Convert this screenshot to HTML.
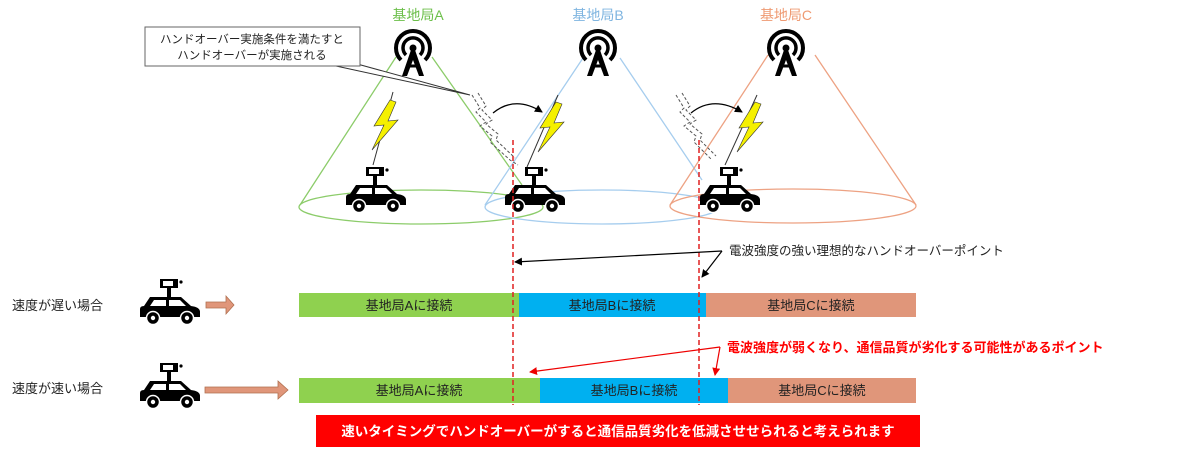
<!DOCTYPE html>
<html><head><meta charset="utf-8"><style>
body{margin:0;background:#fff;width:1200px;height:452px;overflow:hidden}
svg text{font-family:"Liberation Sans","Noto Sans CJK JP",sans-serif}
</style></head><body>
<svg width="1200" height="452" viewBox="0 0 1200 452" xmlns="http://www.w3.org/2000/svg">
<defs>
<g id="car">
<rect x="20" y="0" width="18" height="9" fill="#000"/>
<rect x="23" y="2" width="10" height="5" fill="#fff"/>
<circle cx="41" cy="3" r="1.6" fill="#000"/>
<rect x="27" y="9" width="4" height="9" fill="#000"/>
<path d="M10 18 H41 L51 27 Q60 28 60 33 V38 H0 V30 Q0 27 4 27 Z" fill="#000"/>
<path d="M14 21 H26 V27 H10 Z M29 21 H40 L46 27 H29 Z" fill="#fff"/>
<circle cx="13" cy="39" r="6.5" fill="#000" stroke="#fff" stroke-width="1.5"/>
<circle cx="47" cy="39" r="6.5" fill="#000" stroke="#fff" stroke-width="1.5"/>
<circle cx="13" cy="39" r="2.2" fill="#fff"/>
<circle cx="47" cy="39" r="2.2" fill="#fff"/>
</g>
<g id="tower">
<path d="M-12 12 A17 17 0 1 1 12 12" fill="none" stroke="#000" stroke-width="4"/>
<path d="M-7 7 A10 10 0 1 1 7 7" fill="none" stroke="#000" stroke-width="3.5"/>
<circle cx="0" cy="0" r="3.5" fill="#000"/>
<path d="M-2 2 L-11 28 H-6 L0 12 L6 28 H11 L2 2 Z" fill="#000"/>
<path d="M-6 18 H6" stroke="#000" stroke-width="3"/>
</g>
<g id="bolt"><path d="M0 0 L-16 26 L-6 25 L-18 50 L8 20 L-2 21 L6 2 Z" fill="#f5f000" stroke="#333" stroke-width="0.6"/></g>
<marker id="ah" markerWidth="8" markerHeight="8" refX="7" refY="4" orient="auto" markerUnits="userSpaceOnUse"><path d="M0 0 L8 4 L0 8 Z" fill="#000"/></marker>
<marker id="ahr" markerWidth="8" markerHeight="8" refX="7" refY="4" orient="auto" markerUnits="userSpaceOnUse"><path d="M0 0 L8 4 L0 8 Z" fill="#e00"/></marker>
</defs>

<text x="418" y="20" font-size="14" fill="#6cbf4a" text-anchor="middle">基地局A</text>
<text x="598" y="20" font-size="14" fill="#7fb5e0" text-anchor="middle">基地局B</text>
<text x="786" y="20" font-size="14" fill="#ef9a72" text-anchor="middle">基地局C</text>

<g fill="none" stroke-width="1.3">
<path d="M396 57 L300 205 M432 57 L522 185" stroke="#8ccc6a"/>
<ellipse cx="421" cy="207" rx="122" ry="17" stroke="#8ccc6a"/>
<path d="M583 58 L485 205 M620 58 L702 180" stroke="#a6cdee"/>
<ellipse cx="602" cy="207" rx="117" ry="17" stroke="#a6cdee"/>
<path d="M768 55 L670 205 M815 55 L916 205" stroke="#eda283"/>
<ellipse cx="793" cy="206" rx="123" ry="17" stroke="#eda283"/>
</g>

<use href="#tower" transform="translate(413,48)"/>
<use href="#tower" transform="translate(598,48)"/>
<use href="#tower" transform="translate(786,48)"/>

<path d="M393 92 L373 165" stroke="#333" stroke-width="1"/>
<use href="#bolt" transform="translate(390,100)"/>
<path d="M558 95 L527 167" stroke="#333" stroke-width="1"/>
<use href="#bolt" transform="translate(556,102)"/>
<path d="M757 95 L725 165" stroke="#333" stroke-width="1"/>
<use href="#bolt" transform="translate(755,102)"/>

<use href="#car" transform="translate(346,167)"/>
<use href="#car" transform="translate(505,167)"/>
<use href="#car" transform="translate(700,167)"/>

<g fill="none" stroke="#555" stroke-width="1" stroke-dasharray="3 2">
<path d="M472 95 L480 108 L476 112 L486 122 L480 126 L492 136 L490 142 L510 160 L518 165"/>
<path d="M478 93 L486 106 L482 110 L492 120 L486 124 L498 134 L496 140 L515 158"/>
<path d="M676 95 L684 108 L680 112 L690 122 L684 126 L696 136 L694 142 L712 160"/>
<path d="M682 93 L690 106 L686 110 L696 120 L690 124 L702 134 L700 140 L716 156"/>
</g>
<path d="M493 113 Q515 95 542 112" fill="none" stroke="#000" stroke-width="1.2" marker-end="url(#ah)"/>
<path d="M691 113 Q713 95 742 112" fill="none" stroke="#000" stroke-width="1.2" marker-end="url(#ah)"/>

<path d="M336 66 L470 95 L350 62" fill="#fff" stroke="#333" stroke-width="1"/>
<rect x="145" y="27" width="215" height="39" fill="#fff" stroke="#666" stroke-width="1"/>
<text x="252" y="43" font-size="11.5" text-anchor="middle" fill="#222">ハンドオーバー実施条件を満たすと</text>
<text x="252" y="59" font-size="11.5" text-anchor="middle" fill="#222">ハンドオーバーが実施される</text>

<rect x="299" y="293" width="220" height="24" fill="#8fd14f"/>
<rect x="519" y="293" width="187" height="24" fill="#00b0f0"/>
<rect x="706" y="293" width="210" height="24" fill="#e0967a"/>
<text x="409" y="310" font-size="13" text-anchor="middle" fill="#222">基地局Aに接続</text>
<text x="612" y="310" font-size="13" text-anchor="middle" fill="#222">基地局Bに接続</text>
<text x="811" y="310" font-size="13" text-anchor="middle" fill="#222">基地局Cに接続</text>

<rect x="299" y="378" width="241" height="25" fill="#8fd14f"/>
<rect x="540" y="378" width="188" height="25" fill="#00b0f0"/>
<rect x="728" y="378" width="188" height="25" fill="#e0967a"/>
<text x="419" y="395" font-size="13" text-anchor="middle" fill="#222">基地局Aに接続</text>
<text x="634" y="395" font-size="13" text-anchor="middle" fill="#222">基地局Bに接続</text>
<text x="822" y="395" font-size="13" text-anchor="middle" fill="#222">基地局Cに接続</text>

<rect x="316" y="415" width="604" height="32" fill="#f00"/>
<text x="618" y="436" font-size="13.5" font-weight="bold" text-anchor="middle" fill="#fff">速いタイミングでハンドオーバーがすると通信品質劣化を低減させせられると考えられます</text>

<path d="M513 140 V405 M699 140 V405" stroke="#e02020" stroke-width="1.5" stroke-dasharray="5 3"/>

<path d="M722 251 L515 262" stroke="#000" stroke-width="1.2" marker-end="url(#ah)"/>
<path d="M722 251 L702 277" stroke="#000" stroke-width="1.2" marker-end="url(#ah)"/>
<text x="729" y="255" font-size="12.5" fill="#222">電波強度の強い理想的なハンドオーバーポイント</text>

<path d="M720 347 L530 372" stroke="#e00" stroke-width="1.2" marker-end="url(#ahr)"/>
<path d="M720 347 L715 375" stroke="#e00" stroke-width="1.2" marker-end="url(#ahr)"/>
<text x="727" y="352" font-size="13" font-weight="bold" fill="#f00">電波強度が弱くなり、通信品質が劣化する可能性があるポイント</text>

<text x="12" y="310" font-size="13" fill="#222">速度が遅い場合</text>
<text x="12" y="393" font-size="13" fill="#222">速度が速い場合</text>
<use href="#car" transform="translate(140,279)"/>
<use href="#car" transform="translate(140,363)"/>
<path d="M206 302 H226 V296 L234 305 L226 314 V308 H206 Z" fill="#e0967a" stroke="#b07050" stroke-width="0.8"/>
<path d="M205 387 H278 V381 L288 390 L278 399 V393 H205 Z" fill="#e0967a" stroke="#b07050" stroke-width="0.8"/>
</svg>
</body></html>
